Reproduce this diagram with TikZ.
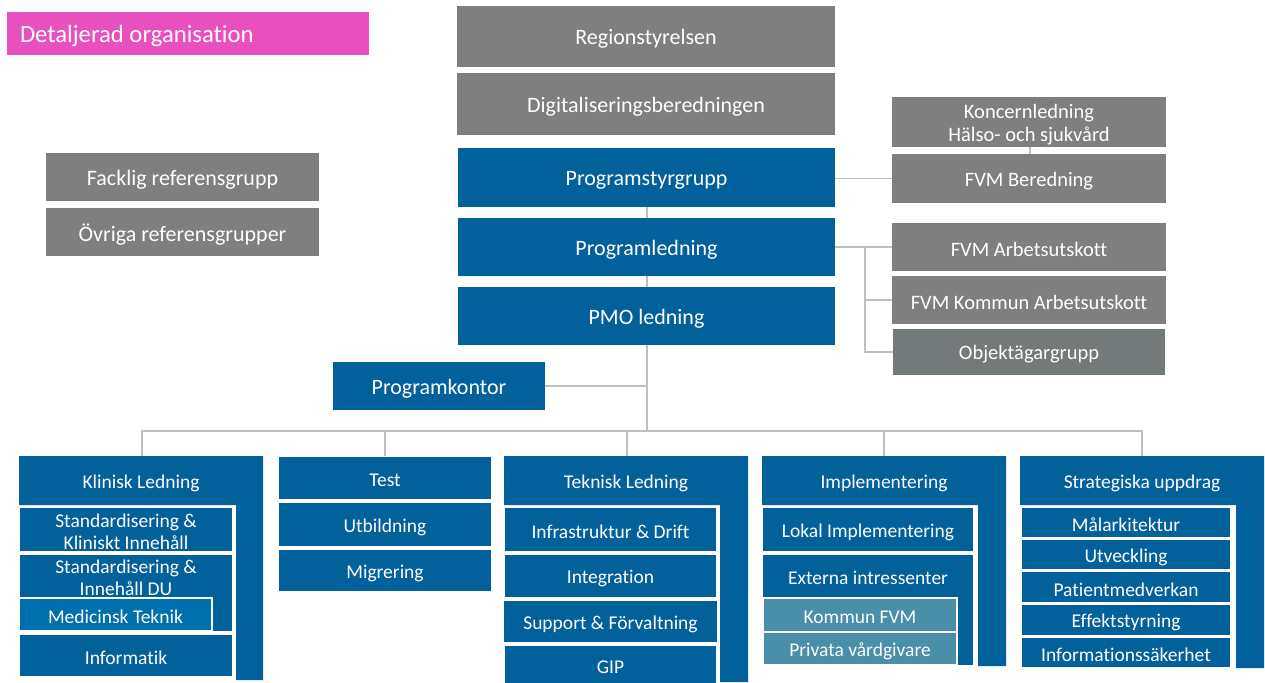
\documentclass[tikz,border=0pt]{standalone}
\usepackage{fontspec}
\setmainfont{Carlito}[Ligatures=CommonOff]
\definecolor{pblue}{RGB}{2,97,154}
\definecolor{mblue}{RGB}{0,111,173}
\definecolor{teal}{RGB}{73,143,170}
\definecolor{pgray}{RGB}{127,127,127}
\definecolor{dgray}{RGB}{116,121,121}
\definecolor{pink}{RGB}{233,80,191}
\definecolor{conn}{RGB}{191,191,191}
\newcommand\bx[7]{%
  \node[#6, minimum width={(#4-#2)*1pt}, minimum height={(#5-#3)*1pt}] (#1) at ({(#2+#4)/2},{(#3+#5)/2}) {};
  \node[#6, fill=none, draw=none, minimum size=0pt, yshift=-2.5pt] (#1-t) at (#1.center) {#7};}
\tikzset{
  base/.style={inner sep=0pt, outer sep=0pt, text=white, align=center, rectangle},
  mainbox/.style={base, font=\fontsize{22}{24.5}\selectfont},
  graybox/.style={mainbox, fill=pgray},
  bluebox/.style={mainbox, fill=pblue},
  refbox/.style={base, fill=pgray, font=\fontsize{20.5}{23}\selectfont},
  lrefbox/.style={base, fill=pgray, font=\fontsize{22}{24.5}\selectfont},
  hdr/.style={base, fill=pblue, font=\fontsize{19.5}{22}\selectfont},
  sub/.style={base, fill=pblue, draw=white, line width=1.5pt, font=\fontsize{19.5}{22.5}\selectfont},
  medbox/.style={sub, fill=mblue},
  tealbox/.style={sub, fill=teal},
  link/.style={draw=conn, line width=1.5pt},
}
\begin{document}
\begin{tikzpicture}[x=1pt,y=-1pt]
\useasboundingbox (0,0) rectangle (1265,682);
% title
\node[base, fill=pink, minimum width=362pt, minimum height=43pt, anchor=north west] (title) at (7,12) {};
\node[base, anchor=west, font=\fontsize{24.7}{27}\selectfont, yshift=-2.5pt] (title-t) at (20,33.5) {Detaljerad organisation};
% top column
\bx{reg}{457}{6}{835}{67}{graybox}{Regionstyrelsen}
\bx{dig}{457}{73}{835}{135}{graybox}{Digitaliseringsberedningen}
\bx{psg}{458}{148}{835}{207}{bluebox}{Programstyrgrupp}
\bx{pl}{458}{218}{835}{276}{bluebox}{Programledning}
\bx{pmo}{458}{287}{835}{345}{bluebox}{PMO ledning}
\bx{pk}{333}{362}{545}{410}{bluebox}{Programkontor}
% reference groups
\bx{fack}{46}{153}{319}{201}{lrefbox}{Facklig referensgrupp}
\bx{ovr}{46}{208}{319}{256}{lrefbox}{Övriga referensgrupper}
% right gray
\bx{kon}{892}{97}{1166}{147}{refbox}{Koncernledning\\Hälso- och sjukvård}
\bx{fvmb}{892}{154}{1166}{203}{refbox}{FVM Beredning}
\bx{fvma}{892}{223}{1166}{271}{refbox}{FVM Arbetsutskott}
\bx{fvmk}{892}{276}{1166}{324}{refbox}{FVM Kommun Arbetsutskott}
\bx{obj}{893}{329}{1165}{375}{refbox, fill=dgray}{Objektägargrupp}
% connectors top
\draw[link] (psg.south -| 647,0) -- (pl.north -| 647,0);
\draw[link] (pl.south -| 647,0) -- (pmo.north -| 647,0);
\coordinate (busc) at (647,431);
\draw[link] (pmo.south -| busc) -- (busc);
\draw[link] (pk.east) -- (pk.east -| busc);
\draw[link] (psg.east |- fvmb.west) -- (fvmb.west);
\draw[link] (kon.south -| 1030,0) -- (fvmb.north -| 1030,0);
\coordinate (rb) at (865,247);
\draw[link] (pl.east |- rb) -- (rb) -- (rb |- obj.west) -- (obj.west);
\draw[link] (rb) -- (rb |- fvma.west) -- (fvma.west);
\draw[link] (rb |- fvmk.west) -- (fvmk.west);

% ===== bottom groups =====
% Klinisk Ledning
\fill[pblue] (19,505) -- (19,456) -- (263,456) -- (263,680) -- (236,680) -- (236,505) -- cycle;
\bx{kl}{19}{456}{263}{505}{hdr}{Klinisk Ledning}
\bx{sk}{19}{507}{233}{552}{sub}{Standardisering \&\\Kliniskt Innehåll}
\node[sub, minimum width=214pt, minimum height=78pt, anchor=north west] (sdu) at (19,554) {};
\node[base, font=\fontsize{19.5}{22.5}\selectfont] (sdu-t) at (126,578) {Standardisering \&\\Innehåll DU};
\bx{mt}{19}{598}{212}{631}{medbox}{Medicinsk Teknik}
\bx{inf}{19}{634}{233}{677}{sub}{Informatik}
% Test group
\bx{test}{278}{456}{492}{500}{sub}{Test}
\bx{utb}{278}{502}{492}{547}{sub}{Utbildning}
\bx{mig}{278}{549}{492}{592}{sub}{Migrering}
% Teknisk Ledning
\fill[pblue] (504,505) -- (504,456) -- (748,456) -- (748,682) -- (720,682) -- (720,505) -- cycle;
\bx{tl}{504}{456}{748}{505}{hdr}{Teknisk Ledning}
\bx{id}{504}{507}{717}{552}{sub}{Infrastruktur \& Drift}
\bx{integ}{504}{554}{717}{598}{sub}{Integration}
\bx{sf}{503}{600}{718}{643}{sub}{Support \& Förvaltning}
\bx{gip}{504}{645}{717}{684}{sub}{GIP}
% Implementering
\fill[pblue] (762,505) -- (762,456) -- (1006,456) -- (1006,666) -- (978,666) -- (978,505) -- cycle;
\bx{impl}{762}{456}{1006}{505}{hdr}{Implementering}
\bx{lok}{762}{507}{974}{552}{sub}{Lokal Implementering}
\node[sub, minimum width=212pt, minimum height=112pt, anchor=north west] (ext) at (762,554) {};
\node[base, font=\fontsize{19.5}{22.5}\selectfont] (ext-t) at (868,578) {Externa intressenter};
\bx{kfvm}{763}{598}{957}{632}{tealbox}{Kommun FVM}
\bx{priv}{763}{632}{957}{665}{tealbox}{Privata vårdgivare}
% Strategiska uppdrag
\fill[pblue] (1020,505) -- (1020,456) -- (1264,456) -- (1264,668) -- (1236,668) -- (1236,505) -- cycle;
\bx{strat}{1020}{456}{1264}{505}{hdr}{Strategiska uppdrag}
\bx{mal}{1021}{507}{1231}{538}{sub}{Målarkitektur}
\bx{utv}{1021}{539}{1231}{570}{sub}{Utveckling}
\bx{pat}{1021}{571}{1231}{603}{sub}{Patientmedverkan}
\bx{eff}{1021}{604}{1231}{636}{sub}{Effektstyrning}
\bx{isak}{1021}{637}{1231}{668}{sub}{Informationssäkerhet}
% bus
\draw[link] (kl.north -| 142,0) -- (142,431) -- (1142,431) -- (strat.north -| 1142,0);
\draw[link] (385,431) -- (test.north -| 385,0);
\draw[link] (627,431) -- (tl.north -| 627,0);
\draw[link] (884,431) -- (impl.north -| 884,0);
\end{tikzpicture}
\end{document}
